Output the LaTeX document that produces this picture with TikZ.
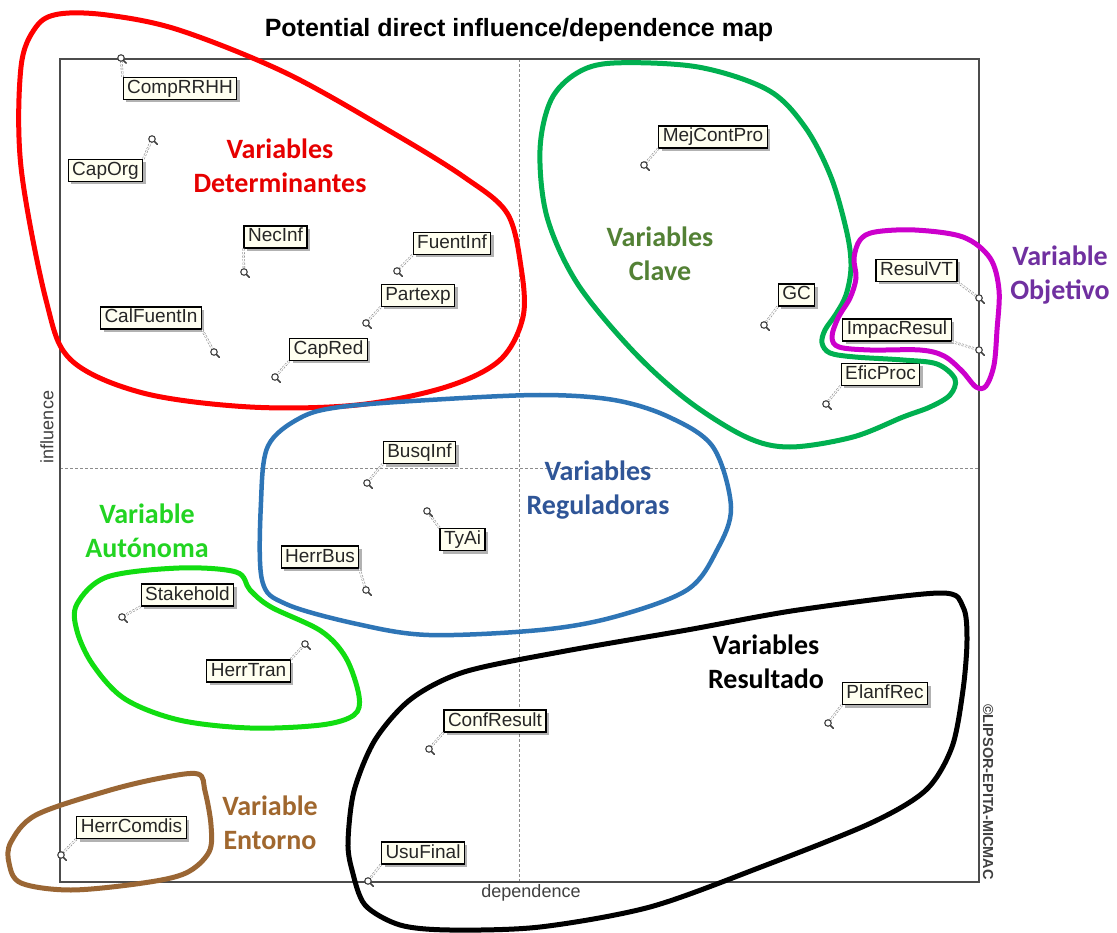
\documentclass[tikz,border=0pt]{standalone}
\usepackage{fontspec}
\setmainfont{Liberation Sans}
\newfontfamily\grpfont{Carlito}
\usetikzlibrary{shadows}

\definecolor{boxfill}{HTML}{FFFFF0}
\definecolor{grpred}{HTML}{FF0000}
\definecolor{txtred}{HTML}{E60000}
\definecolor{grpgreen}{HTML}{00B050}
\definecolor{txtgreen}{HTML}{538135}
\definecolor{grpmag}{HTML}{CC00CC}
\definecolor{txtpurple}{HTML}{7030A0}
\definecolor{grpblue}{HTML}{2E75B6}
\definecolor{txtblue}{HTML}{2F5597}
\definecolor{grplime}{HTML}{11DD11}
\definecolor{txtlime}{HTML}{22D422}
\definecolor{grpbrown}{HTML}{9A6634}
\definecolor{txtbrown}{HTML}{A0672E}

\tikzset{
  varbox/.style={draw=black, line width=1.2pt, fill=boxfill, inner xsep=4pt, inner ysep=2pt,
    text height=14pt, text depth=4pt, font=\fontsize{19}{22}\selectfont, text=black!85,
    drop shadow={shadow xshift=3pt, shadow yshift=-3pt, fill=black, opacity=0.3}},
  keymark/.style={circle, draw=black!75, line width=1.1pt, fill=white, inner sep=0pt, minimum size=6.5pt},
  keytail/.style={draw=black!75, line width=1.6pt, line cap=round},
  keylink/.style={draw=black!45, line width=0.6pt, dash pattern=on 2pt off 1.5pt, double=white, double distance=1.2pt},
  midline/.style={draw=black!45, line width=0.9pt, dash pattern=on 3pt off 2pt},
  frame/.style={draw=black!70, line width=2pt},
  axislabel/.style={font=\fontsize{18}{20}\selectfont, text=black!75},
  grp/.style={line width=5pt, line join=round},
  grplabel/.style={font=\grpfont\bfseries\fontsize{28}{34}\selectfont, align=center},
}

% one variable of the map: label box, position marker and the link between them
\newcommand\mapvar[7]{%
  \node[varbox] (#1) at (#3,#4) {#2};
  \draw[keylink] (#1.#7) -- (#5,#6);
  \node[keymark] (#1k) at (#5,#6) {};
  \draw[keytail] (#1k.-45) -- ++(2.5,2.5);
}

\begin{document}
\begin{tikzpicture}[x=1pt,y=-1pt]
\useasboundingbox[fill=white] (0,0) rectangle (1117,933);

% plot area with the two mean lines
\draw[midline] (519,59) -- (519,882);
\draw[midline] (60,468) -- (979,468);
\draw[frame] (60,59) rectangle (979,882);

\node[font=\bfseries\fontsize{25}{28}\selectfont] (title) at (519,30) {Potential direct influence/dependence map};
\node[axislabel, rotate=90] (infl) at (47,427) {influence};
\node[axislabel] (dep) at (531,893) {dependence};
\node[font=\bfseries\fontsize{14.5}{16}\selectfont, rotate=-90, text=black!75] (wm) at (988,792) {©LIPSOR-EPITA-MICMAC};

% variables
\mapvar{comp}{CompRRHH}{180}{88.5}{121}{58}{north west}
\mapvar{caporg}{CapOrg}{105.5}{170.5}{152}{139}{north east}
\mapvar{necinf}{NecInf}{275.5}{237}{244}{272}{south west}
\mapvar{fuentinf}{FuentInf}{452}{243.5}{397}{271}{south west}
\mapvar{partexp}{Partexp}{418}{295.5}{366}{323}{south west}
\mapvar{calfuente}{CalFuentIn}{151}{318}{214}{352}{south east}
\mapvar{capred}{CapRed}{328.5}{349.5}{275}{377}{south west}
\mapvar{mejcont}{MejContPro}{713}{137}{644}{165}{south west}
\mapvar{gc}{GC}{796.5}{295}{764}{325}{south west}
\mapvar{resulvt}{ResulVT}{916.5}{270.5}{979}{298}{south east}
\mapvar{impac}{ImpacResul}{897}{330}{979}{350}{south east}
\mapvar{efic}{EficProc}{880.5}{374.5}{826}{404}{south west}
\mapvar{busq}{BusqInf}{419.5}{452.5}{367}{483}{south west}
\mapvar{tyai}{TyAi}{462.5}{539.5}{427}{511}{north west}
\mapvar{herrbus}{HerrBus}{320}{557}{366}{590}{south east}
\mapvar{stake}{Stakehold}{187.5}{595}{122}{617}{south west}
\mapvar{herrtran}{HerrTran}{248.5}{671}{305}{644}{north east}
\mapvar{herrcom}{HerrComdis}{131.5}{827.5}{61}{855}{south west}
\mapvar{confres}{ConfResult}{495}{721}{429}{749}{south west}
\mapvar{usufin}{UsuFinal}{423}{853}{368}{881}{south west}
\mapvar{planf}{PlanfRec}{885}{693.5}{828}{723}{south west}

% hand-drawn group outlines
\draw[grp, grpred] plot[smooth cycle, tension=0.55] coordinates {
  (36,27) (59,14) (107,15) (179,30) (286,73) (393,133) (464,177) (507,213)
  (521,267) (523,317) (500,360) (446,387) (357,405) (250,407) (143,393)
  (71,360) (46,300) (21,167) (21,67)};
\draw[grp, grpgreen] plot[smooth cycle, tension=0.55] coordinates {
  (614,63) (698,67) (768,90) (805,127) (831,177) (847,233) (851,267)
  (846,295) (836,314) (825,330) (822,343) (830,353) (855,357) (903,360)
  (937,364) (955,379) (950,395) (930,407) (903,417) (853,437) (790,447)
  (746,437) (687,400) (632,350) (577,283) (547,217) (540,150) (551,100) (577,73)};
\draw[grp, grpmag] plot[smooth cycle, tension=0.55] coordinates {
  (875,232) (915,230) (963,237) (990,258) (999,290) (997,330) (994,365)
  (986,386) (976,387) (962,371) (944,356) (920,350) (870,350) (839,347)
  (832,337) (838,318) (850,298) (856,278) (854,258) (860,240)};
\draw[grp, grpblue, line width=4.5pt] plot[smooth cycle, tension=0.55] coordinates {
  (300,418) (340,407) (429,400) (540,395) (614,400) (669,417) (713,447)
  (731,507) (717,550) (687,590) (614,617) (540,630) (429,635) (357,624)
  (286,604) (262,580) (261,502) (268,446)};
\draw[grp, grplime] plot[smooth cycle, tension=0.55] coordinates {
  (77,604) (107,577) (179,568) (236,572) (250,590) (271,607) (321,631)
  (346,658) (359,696) (354,715) (321,725) (250,728) (179,720) (125,699)
  (93,665) (77,631)};
\draw[grp, grpbrown] plot[smooth cycle, tension=0.55] coordinates {
  (11,842) (36,815) (107,791) (161,778) (198,774) (205,791) (211,825)
  (209,852) (186,873) (143,883) (71,890) (21,883) (9,863)};
\draw[grp, black] plot[smooth cycle, tension=0.5] coordinates {
  (939,593) (963,607) (967,640) (963,690) (952,747) (926,790) (871,823)
  (761,867) (650,907) (540,927) (450,930) (400,925) (365,905) (352,870)
  (348,842) (354,791) (375,740) (411,699) (464,672) (560,652) (687,630) (798,610)};

% group names
\node[grplabel, text=txtred] (gdet) at (280,166) {Variables\\Determinantes};
\node[grplabel, text=txtgreen] (gclave) at (660,254) {Variables\\Clave};
\node[grplabel, text=txtpurple] (gobj) at (1060,275) {Variable\\Objetivo};
\node[grplabel, text=txtblue] (greg) at (598,490) {Variables\\Reguladoras};
\node[grplabel, text=txtlime] (gaut) at (147,531) {Variable\\Autónoma};
\node[grplabel, text=txtbrown] (gent) at (270,823) {Variable\\Entorno};
\node[grplabel, text=black] (gres) at (766,662) {Variables\\Resultado};
\end{tikzpicture}
\end{document}
